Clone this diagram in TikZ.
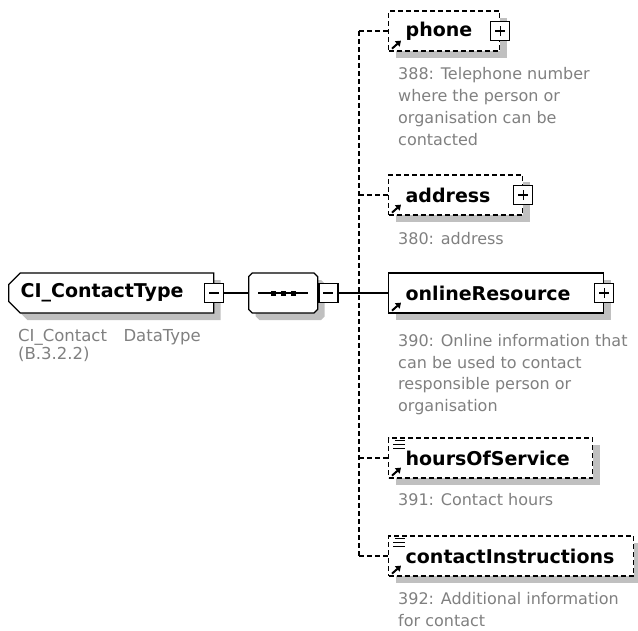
\documentclass[tikz,border=0pt]{standalone}
\usepackage{fontspec}
\setmainfont{DejaVu Sans}
\usetikzlibrary{arrows.meta,positioning,shapes.misc,shadows}
\definecolor{shadowgray}{RGB}{192,192,192}
\definecolor{docgray}{RGB}{128,128,128}

\begin{document}
\begin{tikzpicture}[x=1pt, y=-1pt,
    elem/.style={draw, fill=white, line width=1.3pt, minimum height=40pt, inner xsep=17pt, inner ysep=0pt,
        anchor=west, align=left, font=\fontsize{19}{21}\selectfont\bfseries,
        drop shadow={shadow xshift=7pt, shadow yshift=-7pt, fill=shadowgray, opacity=1}},
    optional/.style={elem, dash pattern=on 5pt off 3pt},
    toggle/.style={draw, fill=white, line width=1.3pt, minimum size=19pt, inner sep=0pt},
    minusbox/.style={toggle, path picture={
        \draw[line width=1.2pt] ([xshift=-5pt]path picture bounding box.center) -- ([xshift=5pt]path picture bounding box.center);}},
    plusbox/.style={toggle, path picture={
        \draw[line width=1.2pt] ([xshift=-5pt]path picture bounding box.center) -- ([xshift=5pt]path picture bounding box.center);
        \draw[line width=1.2pt] ([yshift=-5pt]path picture bounding box.center) -- ([yshift=5pt]path picture bounding box.center);}},
    doc/.style={anchor=base west, align=left, inner sep=0pt, text=docgray, font=\fontsize{16}{22}\selectfont},
    link/.style={line width=1.3pt},
    optlink/.style={link, dash pattern=on 5pt off 3pt},
    refmark/.style={-{Triangle[length=5pt, width=7pt]}, line width=2pt},
    textmark/.style={line width=1pt}
]
\useasboundingbox (0,0) rectangle (638,630);

% Complex type
\node[elem, chamfered rectangle, chamfered rectangle corners={north west,south west}, chamfered rectangle xsep=8pt,
    minimum width=205pt, text width=181pt, inner xsep=4pt] (ct) at (8,293) {CI\_ContactType};
\node[minusbox] (ctMinus) at (ct.east) {};
\node[doc, font=\fontsize{16.5}{18}\selectfont] (ctDoc) at (18,359) {CI\_Contact\hspace{1em}DataType\\(B.3.2.2)};

% Sequence
\node[elem, chamfered rectangle, chamfered rectangle xsep=10pt, minimum width=69pt, text width=1pt] (seq) at (248,293) {};
\node[minusbox, anchor=west] (seqMinus) at (seq.east) {};
\draw[link] ([xshift=-25pt]seq.center) -- ([xshift=25pt]seq.center);
\fill ([xshift=-10pt]seq.center) +(-2.5,-2.5) rectangle +(2.5,2.5);
\fill (seq.center) +(-2.5,-2.5) rectangle +(2.5,2.5);
\fill ([xshift=10pt]seq.center) +(-2.5,-2.5) rectangle +(2.5,2.5);

% Elements
\node[optional, text width=77pt] (phone) at (388,31) {phone};
\node[plusbox] (phonePlus) at (phone.east) {};
\node[doc] (phoneDoc) at (398,145) {388: Telephone number\\where the person or\\organisation can be\\contacted};

\node[optional, text width=100pt] (address) at (388,195) {address};
\node[plusbox] (addressPlus) at (address.east) {};
\node[doc] (addressDoc) at (398,244) {380: address};

\node[elem, text width=181pt] (online) at (388,293) {onlineResource};
\node[plusbox] (onlinePlus) at (online.east) {};
\node[doc, font=\fontsize{16}{21.5}\selectfont] (onlineDoc) at (398,411) {390: Online information that\\can be used to contact\\responsible person or\\organisation};

\node[optional, text width=170pt] (hours) at (388,458) {hoursOfService};
\node[doc] (hoursDoc) at (398,505) {391: Contact hours};

\node[optional, text width=211pt] (instr) at (388,556) {contactInstructions};
\node[doc] (instrDoc) at (398,626) {392: Additional information\\for contact};

% Reference and text markers
\foreach \n in {phone,address,online,hours,instr}
    \draw[refmark] ([xshift=4pt, yshift=3pt]\n.south west) -- ([xshift=13pt, yshift=11pt]\n.south west);
\foreach \n in {hours,instr} {
    \draw[textmark] ([xshift=7pt, yshift=-3pt]\n.north west) -- ([xshift=17pt, yshift=-3pt]\n.north west);
    \draw[textmark] ([xshift=5pt, yshift=-7pt]\n.north west) -- ([xshift=17pt, yshift=-7pt]\n.north west);
    \draw[textmark] ([xshift=5pt, yshift=-11pt]\n.north west) -- ([xshift=17pt, yshift=-11pt]\n.north west);
}

% Connectors
\coordinate (branch) at (359,293);
\draw[link] (ctMinus.east) -- (seq.west);
\draw[link] (seqMinus.east) -- (online.west);
\draw[optlink] (phone.west -| branch) -- (instr.west -| branch);
\draw[optlink] (phone.west -| branch) -- (phone.west);
\draw[optlink] (address.west -| branch) -- (address.west);
\draw[optlink] (hours.west -| branch) -- (hours.west);
\draw[optlink] (instr.west -| branch) -- (instr.west);

\end{tikzpicture}
\end{document}
